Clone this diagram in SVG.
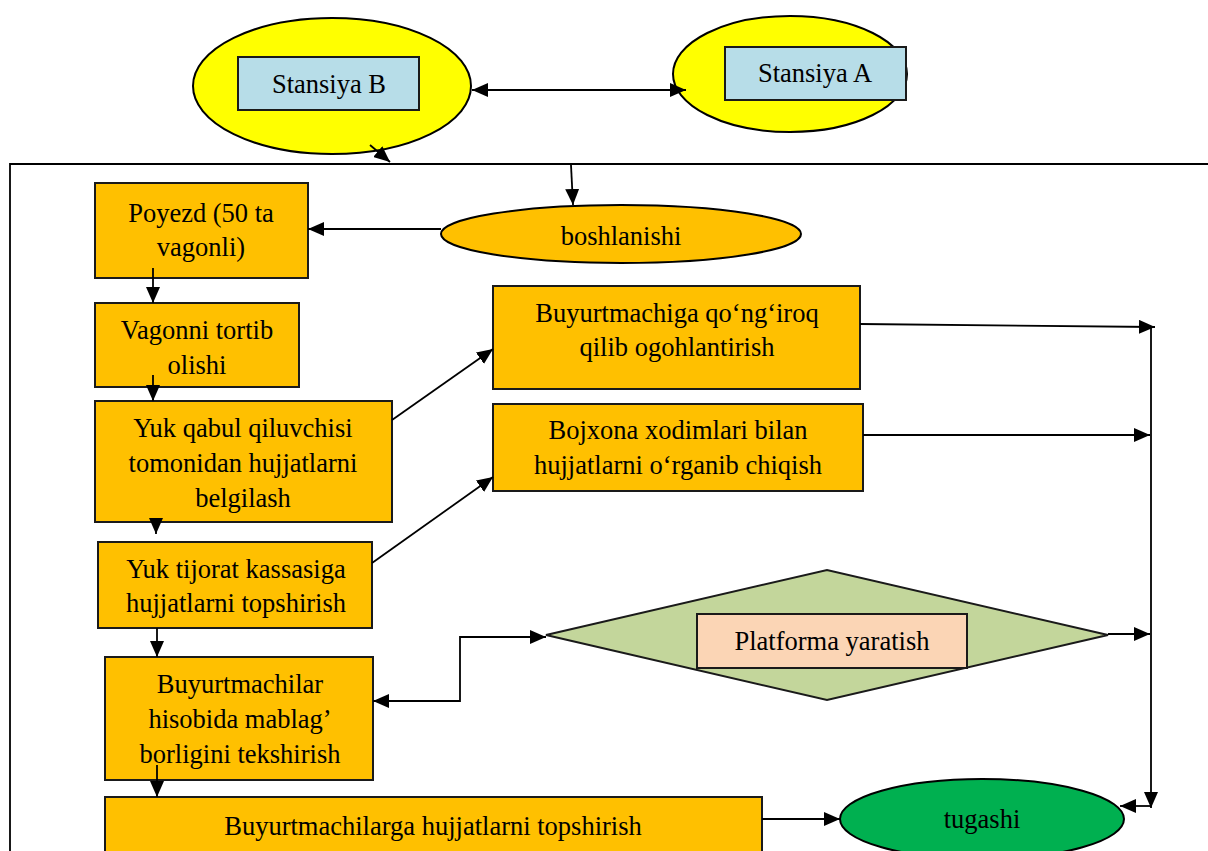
<svg xmlns="http://www.w3.org/2000/svg" width="1208" height="851" viewBox="0 0 1208 851">
  <style>
    .t { font-family: "Liberation Serif", "Times New Roman", serif; font-size: 26.5px; fill: #000; text-anchor: middle; }
    .box { fill: #ffc000; stroke: #1a1a1a; stroke-width: 2; }
    .st { fill: #ffff00; stroke: #000; stroke-width: 2; }
    .lbl { fill: #b7dde8; stroke: #1a1a1a; stroke-width: 2; }
    .ln { fill: none; stroke: #000; stroke-width: 1.8; }
  </style>
  <defs>
    <marker id="ahL" viewBox="0 0 16 14" refX="16" refY="7" markerWidth="16" markerHeight="14" markerUnits="userSpaceOnUse" orient="auto-start-reverse">
      <path d="M0,0 L16,7 L0,14 Z" fill="#000"/>
    </marker>
  </defs>

  <rect width="1208" height="851" fill="#fff"/>

  <!-- outer frame (top and left edges visible) -->
  <path class="ln" d="M10,851 V164 H1208"/>

  <g id="stansiya-b">
    <ellipse class="st" cx="332" cy="86" rx="139" ry="68"/>
    <rect class="lbl" x="238" y="57" width="181" height="53"/>
    <text class="t" x="329" y="93">Stansiya B</text>
  </g>

  <g id="stansiya-a">
    <ellipse class="st" cx="790" cy="74" rx="117" ry="58"/>
    <rect class="lbl" x="725" y="47" width="181" height="53"/>
    <text class="t" x="815" y="82">Stansiya A</text>
  </g>

  <g id="boshlanishi">
    <ellipse fill="#ffc000" stroke="#000" stroke-width="2" cx="621" cy="234" rx="180" ry="29"/>
    <text class="t" x="621" y="245">boshlanishi</text>
  </g>

  <g id="poyezd">
    <rect class="box" x="95" y="183" width="213" height="95"/>
    <text class="t" x="201" y="222">Poyezd (50 ta</text>
    <text class="t" x="201" y="256">vagonli)</text>
  </g>

  <g id="vagonni">
    <rect class="box" x="95" y="303" width="204" height="84"/>
    <text class="t" x="197" y="339">Vagonni tortib</text>
    <text class="t" x="197" y="374">olishi</text>
  </g>

  <g id="yuk-qabul">
    <rect class="box" x="95" y="401" width="297" height="121"/>
    <text class="t" x="243" y="437">Yuk qabul qiluvchisi</text>
    <text class="t" x="243" y="472">tomonidan hujjatlarni</text>
    <text class="t" x="243" y="507">belgilash</text>
  </g>

  <g id="yuk-tijorat">
    <rect class="box" x="98" y="542" width="274" height="86"/>
    <text class="t" x="236" y="578">Yuk tijorat kassasiga</text>
    <text class="t" x="236" y="612">hujjatlarni topshirish</text>
  </g>

  <g id="buyurtmachilar">
    <rect class="box" x="105" y="657" width="268" height="123"/>
    <text class="t" x="240" y="693">Buyurtmachilar</text>
    <text class="t" x="240" y="728">hisobida mablag’</text>
    <text class="t" x="240" y="763">borligini tekshirish</text>
  </g>

  <g id="buyurtmachilarga">
    <rect class="box" x="105" y="797" width="657" height="70"/>
    <text class="t" x="433" y="835">Buyurtmachilarga hujjatlarni topshirish</text>
  </g>

  <g id="qongiroq">
    <rect class="box" x="493" y="286" width="367" height="103"/>
    <text class="t" x="677" y="322">Buyurtmachiga qo‘ng‘iroq</text>
    <text class="t" x="677" y="356">qilib ogohlantirish</text>
  </g>

  <g id="bojxona">
    <rect class="box" x="493" y="404" width="370" height="87"/>
    <text class="t" x="678" y="439">Bojxona xodimlari bilan</text>
    <text class="t" x="678" y="474">hujjatlarni o‘rganib chiqish</text>
  </g>

  <g id="platforma">
    <polygon fill="#c3d69b" stroke="#1a1a1a" stroke-width="2" points="546,635 827,570 1108,635 827,700"/>
    <rect fill="#fbd5b5" stroke="#1a1a1a" stroke-width="2" x="697" y="614" width="270" height="54"/>
    <text class="t" x="832" y="650">Platforma yaratish</text>
  </g>

  <g id="tugashi">
    <ellipse fill="#00b050" stroke="#000" stroke-width="2" cx="982" cy="819" rx="142" ry="40"/>
    <text class="t" x="982" y="828">tugashi</text>
  </g>

  <g id="connectors">
    <!-- stations -->
    <path class="ln" d="M472,90 H686" marker-start="url(#ahL)" marker-end="url(#ahL)"/>
    <path class="ln" d="M370,145 L390,162" marker-end="url(#ahL)"/>
    <path class="ln" d="M571,165 L573,205" marker-end="url(#ahL)"/>
    <!-- left column -->
    <path class="ln" d="M441,229 H308" marker-end="url(#ahL)"/>
    <path class="ln" d="M153,268 V303" marker-end="url(#ahL)"/>
    <path class="ln" d="M153,375 V401" marker-end="url(#ahL)"/>
    <path class="ln" d="M156,518 V534" marker-end="url(#ahL)"/>
    <path class="ln" d="M157,628 V657" marker-end="url(#ahL)"/>
    <path class="ln" d="M157,765 V797" marker-end="url(#ahL)"/>
    <!-- branches to the right -->
    <path class="ln" d="M392,420 L493,349" marker-end="url(#ahL)"/>
    <path class="ln" d="M372,563 L493,477" marker-end="url(#ahL)"/>
    <path class="ln" d="M373,701 H460 V637 H546" marker-start="url(#ahL)" marker-end="url(#ahL)"/>
    <!-- towards the collector line -->
    <path class="ln" d="M860,324 L1155,327" marker-end="url(#ahL)"/>
    <path class="ln" d="M863,435 H1150" marker-end="url(#ahL)"/>
    <path class="ln" d="M1108,634 H1150" marker-end="url(#ahL)"/>
    <path class="ln" d="M1151,326 V808" marker-end="url(#ahL)"/>
    <path class="ln" d="M1151,806 H1120" marker-end="url(#ahL)"/>
    <path class="ln" d="M762,819 H840" marker-end="url(#ahL)"/>
  </g>
</svg>
